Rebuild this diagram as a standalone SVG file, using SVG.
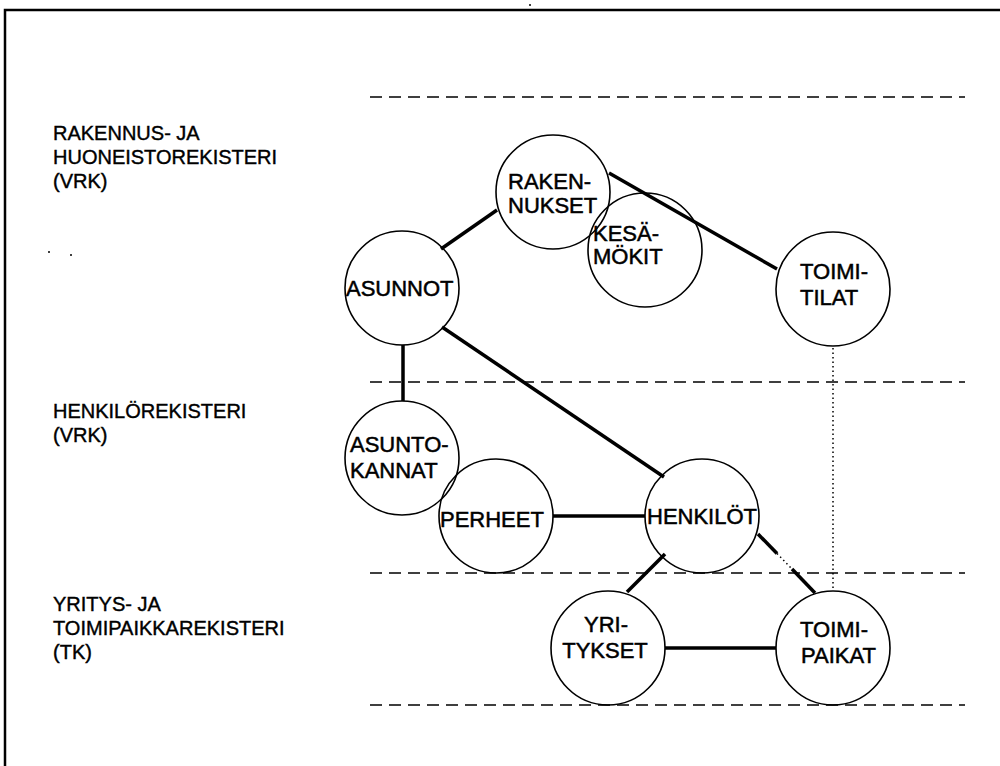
<svg xmlns="http://www.w3.org/2000/svg" width="1000" height="766" viewBox="0 0 1000 766">
<style>
.bg{fill:#fff}
.frame{fill:none;stroke:#000;stroke-width:2.5}
.band{stroke:#000;stroke-width:1.6;stroke-dasharray:12 7;fill:none}
.node{fill:none;stroke:#000;stroke-width:1.6}
.lbl{font-family:"Liberation Sans",Arial,sans-serif;font-size:22px;fill:#000;stroke:#000;stroke-width:0.5}
.reg{font-family:"Liberation Sans",Arial,sans-serif;font-size:20px;fill:#000;stroke:#000;stroke-width:0.4}
.edge{stroke:#000;stroke-width:3.5;fill:none}
.dot{stroke:#000;stroke-width:1.5;stroke-dasharray:1.5 3;fill:none}
.speck{fill:#000}
</style>
<rect class="bg" x="0" y="0" width="1000" height="766"/>
<path class="frame" d="M5,766 V10 H1000"/>
<circle class="speck" cx="49" cy="252" r="1"/>
<circle class="speck" cx="71" cy="255" r="1"/>
<circle class="speck" cx="530" cy="5" r="1"/>
<g id="bands">
<line class="band" x1="370" y1="97" x2="965" y2="97"/>
<line class="band" x1="370" y1="382" x2="965" y2="382"/>
<line class="band" x1="370" y1="573" x2="965" y2="573"/>
<line class="band" x1="370" y1="705" x2="965" y2="705"/>
</g>
<g id="labels">
<text class="reg" x="53" y="140">RAKENNUS- JA</text>
<text class="reg" x="53" y="164">HUONEISTOREKISTERI</text>
<text class="reg" x="53" y="188">(VRK)</text>
<text class="reg" x="53" y="418">HENKILÖREKISTERI</text>
<text class="reg" x="53" y="442">(VRK)</text>
<text class="reg" x="53" y="611">YRITYS- JA</text>
<text class="reg" x="53" y="635">TOIMIPAIKKAREKISTERI</text>
<text class="reg" x="53" y="659">(TK)</text>
</g>
<g id="connectors">
<line class="edge" x1="497" y1="210" x2="441" y2="249"/>
<line class="edge" x1="609" y1="173" x2="777" y2="269"/>
<line class="edge" x1="403" y1="345" x2="403" y2="401"/>
<line class="edge" x1="442" y1="327" x2="664" y2="477"/>
<line class="edge" x1="553" y1="516" x2="645" y2="516"/>
<line class="edge" x1="665" y1="554" x2="627" y2="592"/>
<line class="edge" x1="665" y1="648" x2="776" y2="648"/>
<line class="edge" x1="758" y1="534" x2="777" y2="553.5"/>
<line class="dot" x1="777" y1="553.5" x2="792" y2="569"/>
<line class="edge" x1="792" y1="569" x2="815" y2="593"/>
<line class="dot" x1="833" y1="348" x2="833" y2="589"/>
</g>
<g id="rakennukset">
<circle class="node" cx="553" cy="192" r="57"/>
<text class="lbl" x="508" y="189">RAKEN-</text>
<text class="lbl" x="508" y="213">NUKSET</text>
</g>
<g id="kesamokit">
<circle class="node" cx="645" cy="250" r="57"/>
<text class="lbl" x="593" y="241">KESÄ-</text>
<text class="lbl" x="593" y="264">MÖKIT</text>
</g>
<g id="asunnot">
<circle class="node" cx="402" cy="288" r="57"/>
<text class="lbl" x="346" y="296">ASUNNOT</text>
</g>
<g id="toimitilat">
<circle class="node" cx="833" cy="289" r="57"/>
<text class="lbl" x="800" y="279">TOIMI-</text>
<text class="lbl" x="800" y="305">TILAT</text>
</g>
<g id="asuntokannat">
<circle class="node" cx="402" cy="458" r="57"/>
<text class="lbl" x="350" y="452">ASUNTO-</text>
<text class="lbl" x="350" y="478">KANNAT</text>
</g>
<g id="perheet">
<circle class="node" cx="496" cy="516" r="57"/>
<text class="lbl" x="440" y="527">PERHEET</text>
</g>
<g id="henkilot">
<circle class="node" cx="702" cy="516" r="57"/>
<text class="lbl" x="647" y="524">HENKILÖT</text>
</g>
<g id="yritykset">
<circle class="node" cx="608" cy="648" r="57"/>
<text class="lbl" x="606" y="632" text-anchor="middle">YRI-</text>
<text class="lbl" x="605" y="658" text-anchor="middle">TYKSET</text>
</g>
<g id="toimipaikat">
<circle class="node" cx="833" cy="648" r="57"/>
<text class="lbl" x="800" y="637">TOIMI-</text>
<text class="lbl" x="801" y="663">PAIKAT</text>
</g>
</svg>
